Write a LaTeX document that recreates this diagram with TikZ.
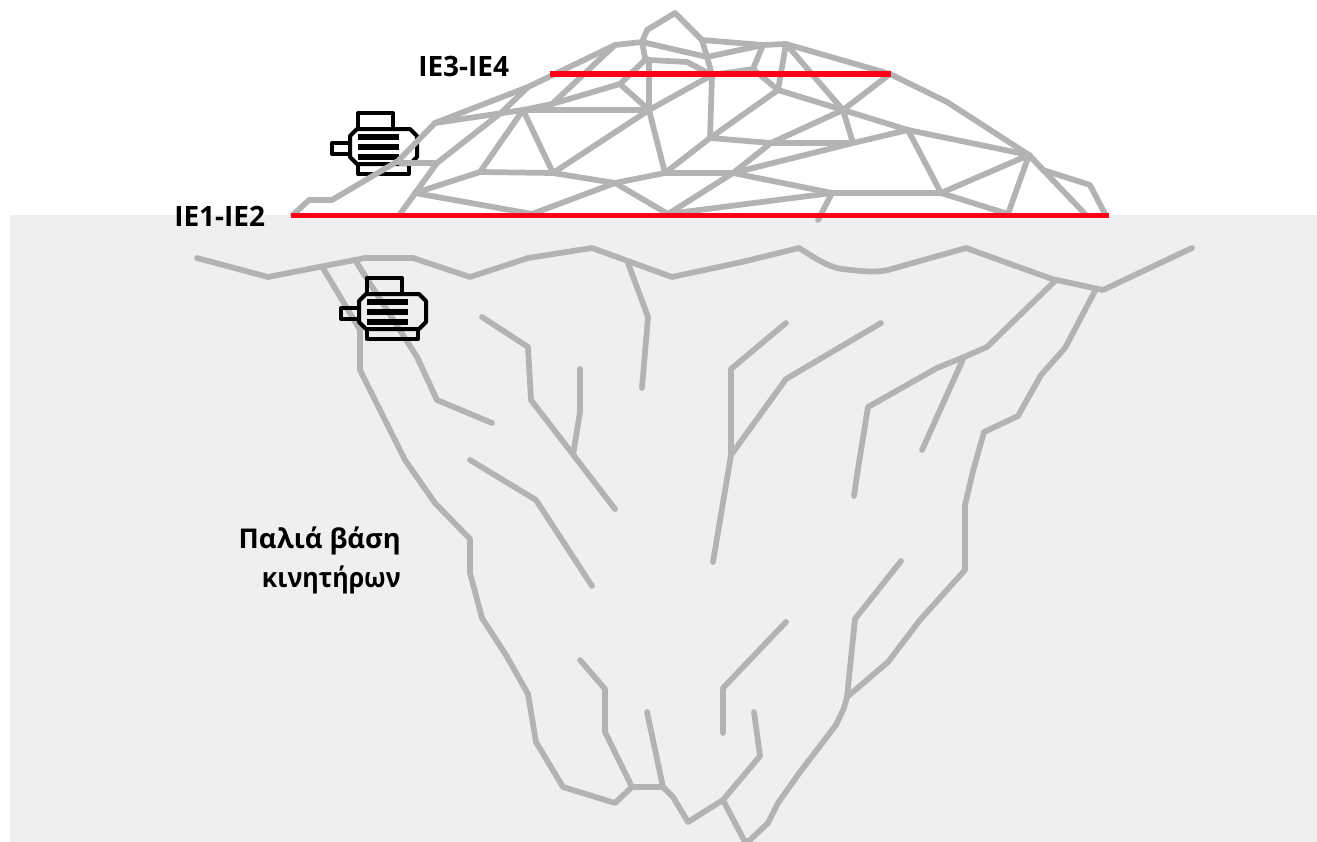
\documentclass[tikz,border=0pt]{standalone}
\usepackage{fontspec}
\setmainfont{Open Sans}
\definecolor{seaback}{HTML}{EFEFEF}
\definecolor{icegrey}{HTML}{B3B3B3}
\definecolor{waterline}{HTML}{FF0018}
\tikzset{
  x=0.75pt,y=-0.75pt,
  ice/.style={draw=icegrey,line width=4.3pt,line cap=round,line join=round},
  level/.style={draw=waterline,line width=4.1pt},
  lab/.style={inner sep=0pt,font=\bfseries\fontsize{20.4}{24}\selectfont,text=black},
  labie/.style={inner sep=0pt,font=\bfseries\fontsize{21}{24}\selectfont,text=black},
  motorline/.style={draw=black,line width=3pt,line join=round},
  motorbar/.style={draw=black,line width=4.3pt},
  motor/.pic={
    \draw[motorline] (350,136) -- (357,129) -- (410,129) -- (417,136) -- (417,157) -- (410,164) -- (357,164) -- (350,157) -- cycle;
    \draw[motorline] (358,129) -- (358,113) -- (393,113) -- (393,129);
    \draw[motorline] (358,164) -- (358,174) -- (409,174) -- (409,164);
    \draw[motorline] (350,143) -- (332,143) -- (332,154) -- (350,154);
    \draw[motorbar] (358,137) -- (399,137);
    \draw[motorbar] (358,147) -- (399,147);
    \draw[motorbar] (358,157) -- (399,157);
  }
}
\begin{document}
\begin{tikzpicture}
\useasboundingbox (0,0) rectangle (1317,842);
\clip (0,0) rectangle (1317,842);
\fill[white] (0,0) rectangle (1317,842);
\fill[seaback] (10,215) rectangle (1317,842);
% upper motor lies beneath the ice
\pic at (0,0) {motor};
% tip of the iceberg: outline
\draw[ice] (293,215) -- (309,200) -- (332,200) -- (398,161) -- (435,123) -- (528,87) -- (615,45) -- (642,42) -- (647,30) -- (675,13) -- (702,40) -- (763,45) -- (786,44) -- (890,74) -- (947,102) -- (1029,155) -- (1043,170) -- (1090,185) -- (1105,214);
\draw[ice] (1029,155) -- (1085,214);
% tip of the iceberg: facets
\draw[ice] (642,42) -- (645,58) -- (649,60) -- (649,110);
\draw[ice] (642,42) -- (707,57) -- (763,45);
\draw[ice] (702,40) -- (707,57) -- (712,75) -- (710,138);
\draw[ice] (649,60) -- (687,62) -- (712,75);
\draw[ice] (645,60) -- (620,84) -- (552,104) -- (523,110);
\draw[ice] (435,123) -- (523,110) -- (649,110);
\draw[ice] (620,84) -- (649,110);
\draw[ice] (615,45) -- (552,104);
\draw[ice] (528,87) -- (502,112) -- (437,163) -- (400,163);
\draw[ice] (437,163) -- (400,214);
\draw[ice] (523,110) -- (480,172);
\draw[ice] (523,110) -- (553,173);
\draw[ice] (712,75) -- (649,110) -- (553,173);
\draw[ice] (649,110) -- (665,173);
\draw[ice] (415,193) -- (480,172) -- (553,173) -- (615,183) -- (665,173) -- (733,173);
\draw[ice] (415,193) -- (532,214) -- (615,183) -- (668,214) -- (733,173) -- (771,143);
\draw[ice] (668,214) -- (832,193);
\draw[ice] (733,173) -- (832,193) -- (941,193) -- (1008,214);
\draw[ice] (832,193) -- (818,220);
\draw[ice] (941,193) -- (1029,155) -- (1008,214);
\draw[ice] (941,193) -- (908,130) -- (1029,155);
\draw[ice] (710,138) -- (771,143) -- (853,143) -- (908,130) -- (843,110) -- (778,90) -- (710,138) -- (665,173);
\draw[ice] (786,44) -- (843,110) -- (890,74);
\draw[ice] (786,44) -- (778,90) -- (753,69) -- (763,45);
\draw[ice] (753,69) -- (712,75);
\draw[ice] (843,110) -- (853,143) -- (733,173);
\draw[ice] (843,110) -- (771,143);
% waterline levels
\draw[level] (291,215.5) -- (1109,215.5);
\draw[level] (550,74) -- (891,74);
% submerged ice
\draw[ice] (197,258) -- (268,277) -- (365,258) -- (413,258) -- (470,277) -- (528,258) -- (592,248) -- (672,277) -- (742,262) -- (799,248) .. controls (815,258) and (828,267) .. (842,269) .. controls (860,271) and (875,273) .. (888,270) -- (966,248) -- (1052,279) -- (1103,290) -- (1192,248);
\draw[ice] (323,268) -- (360,330) -- (360,370) -- (405,460) -- (435,503) -- (470,539) -- (470,573) -- (482,618) -- (506,655) -- (528,694) -- (536,742) -- (563,787) -- (615,803) -- (632,787) -- (663,787) -- (673,797) -- (688,822) -- (723,800) -- (745,842);
\draw[ice] (745,842) -- (750,840) -- (768,823) -- (778,803) -- (800,772) -- (836,725) -- (844,708) -- (847,697) -- (888,662) -- (920,620) -- (965,570) -- (965,505) -- (973,471) -- (984,432) -- (1018,416) -- (1041,375) -- (1065,348) -- (1096,289);
\draw[ice] (847,697) -- (855,619) -- (901,561);
\draw[ice] (1056,280) -- (987,347) -- (964,357) -- (937,368) -- (868,407) -- (857,475) -- (854,496);
\draw[ice] (964,357) -- (922,450);
\draw[ice] (355,260) -- (417,357) -- (437,400) -- (492,423);
\draw[ice] (482,317) -- (528,347) -- (531,400) -- (615,509);
\draw[ice] (580,369) -- (580,412) -- (573,455);
\draw[ice] (470,460) -- (536,500) -- (592,586);
\draw[ice] (628,263) -- (648,317) -- (642,388);
\draw[ice] (786,323) -- (731,369) -- (731,455) -- (713,562);
\draw[ice] (881,323) -- (786,379) -- (731,455);
\draw[ice] (580,660) -- (605,689) -- (605,732) -- (632,787);
\draw[ice] (786,622) -- (723,688) -- (723,733);
\draw[ice] (647,712) -- (663,787);
\draw[ice] (723,800) -- (760,756) -- (754,712);
% lower motor lies over the ice
\pic at (9,165) {motor};
% labels
\node[labie,anchor=base west] (ieupper) at (418,77) {IE3-IE4};
\node[labie,anchor=base west] (ielower) at (174,226) {IE1-IE2};
\node[lab,anchor=base east] (oldone) at (401,548) {Παλιά βάση};
\node[lab,anchor=base east,xscale=0.92] (oldtwo) at (401,587) {κινητήρων};
\end{tikzpicture}
\end{document}
